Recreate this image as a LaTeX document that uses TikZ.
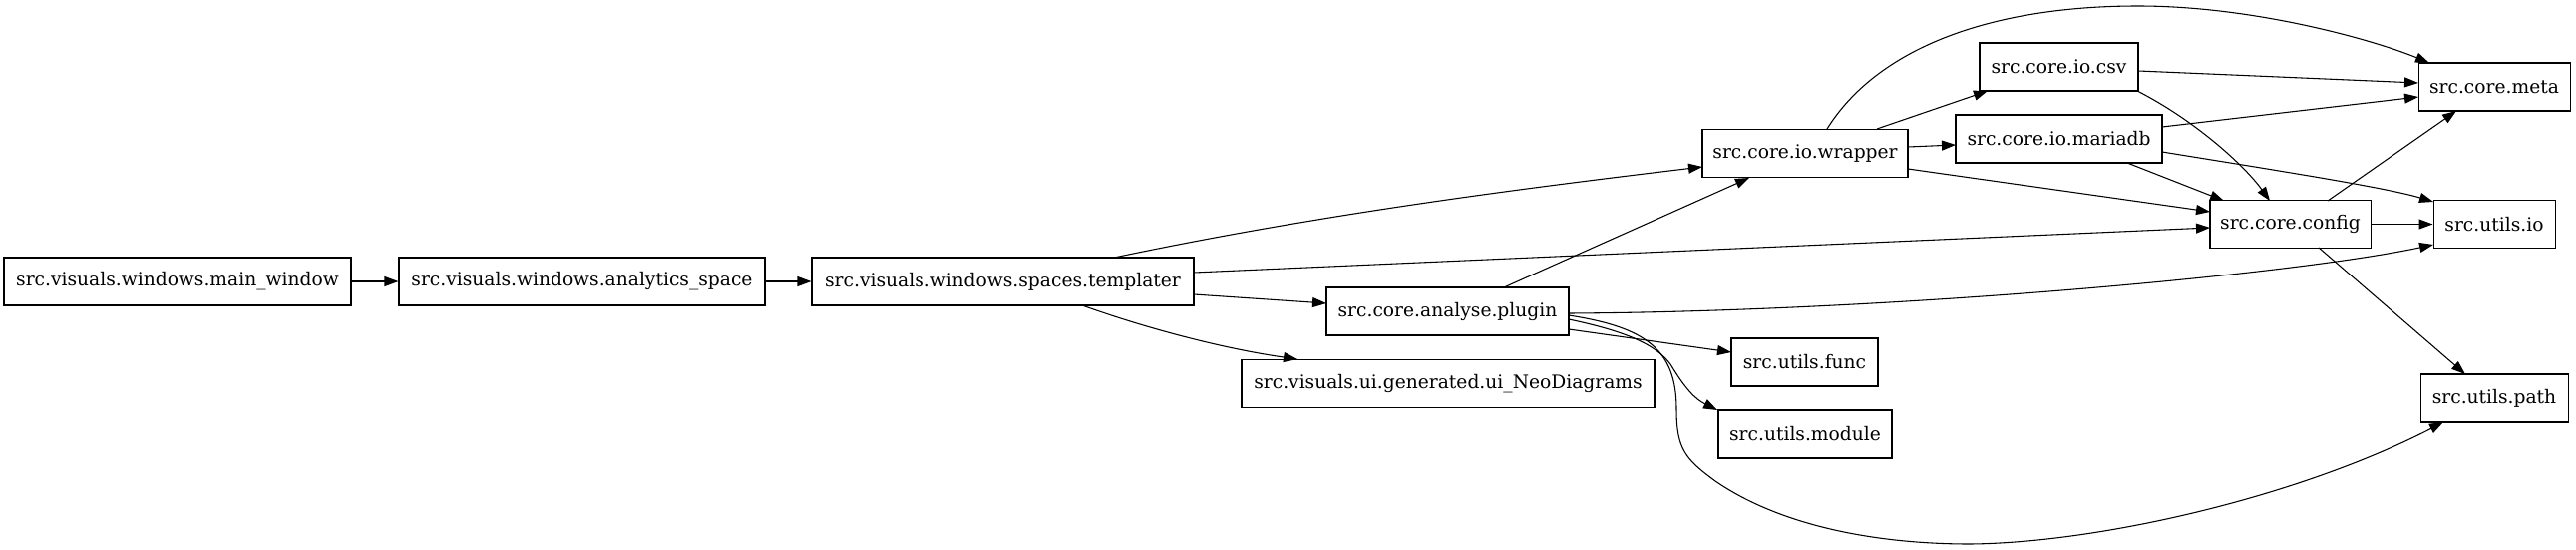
\documentclass[tikz,border=0pt]{standalone}
\usepackage{fontspec}
\setmainfont{DejaVu Serif}
\usetikzlibrary{arrows.meta}
\begin{document}
\begin{tikzpicture}[x=0.75pt,y=-0.75pt,
  box/.style={draw, line width=0.8pt, rectangle, minimum height=36pt, inner sep=0pt,
              font=\fontsize{14}{16}\selectfont},
  edge/.style={line width=0.8pt, -{Triangle[length=10.5pt,width=7.5pt]}}]
\useasboundingbox (0,0) rectangle (2583,550);
% nodes
\node[box, minimum width=261pt]    (mw)   at (178,282)    {src.visuals.windows.main\_window};
\node[box, minimum width=275.25pt] (an)   at (583.5,282)  {src.visuals.windows.analytics\_space};
\node[box, minimum width=287.25pt] (tp)   at (1005.5,282) {src.visuals.windows.spaces.templater};
\node[box, minimum width=182.25pt] (pl)   at (1451.5,312) {src.core.analyse.plugin};
\node[box, minimum width=310.5pt]  (neo)  at (1452,384.5) {src.visuals.ui.generated.ui\_NeoDiagrams};
\node[box, minimum width=154.5pt]  (wr)   at (1810,153.5) {src.core.io.wrapper};
\node[box, minimum width=119.25pt] (csv)  at (2064.5,67)  {src.core.io.csv};
\node[box, minimum width=155.25pt] (mdb)  at (2064.5,139) {src.core.io.mariadb};
\node[box, minimum width=114pt]    (meta) at (2501,87)    {src.core.meta};
\node[box, minimum width=120.75pt] (cfg)  at (2296.5,224.5) {src.core.config};
\node[box, minimum width=91.5pt]   (uio)  at (2501,224.5) {src.utils.io};
\node[box, minimum width=110.25pt] (ufunc) at (1809.5,363) {src.utils.func};
\node[box, minimum width=130.5pt]  (umod) at (1810,435)   {src.utils.module};
\node[box, minimum width=111pt]    (upath) at (2501,399)  {src.utils.path};
% edges
\draw[edge] (mw.east) -- (an.west);
\draw[edge] (an.east) -- (tp.west);
\draw[edge] ([shift={(111.5,-24)}]tp.center) .. controls +(200,-42) and +(-200,24) .. ([shift={(-103,13.5)}]wr.center);
\draw[edge] ([shift={(191.5,-9)}]tp.center) -- ([shift={(-80.5,3.5)}]cfg.center);
\draw[edge] ([shift={(191.5,13)}]tp.center) -- ([shift={(-121.5,-8)}]pl.center);
\draw[edge] ([shift={(79.5,24)}]tp.center) .. controls +(70,25) and +(-70,-10) .. ([shift={(-151,-24.5)}]neo.center);
\draw[edge] ([shift={(56.5,-24)}]pl.center) -- ([shift={(-56,24.5)}]wr.center);
\draw[edge] ([shift={(121.5,2)}]pl.center) .. controls +(327,-2) and +(-140,30) .. ([shift={(-61,20.5)}]uio.center);
\draw[edge] ([shift={(121.5,18)}]pl.center) -- ([shift={(-73.5,-10)}]ufunc.center);
\draw[edge] ([shift={(121.5,8)}]pl.center) .. controls +(57,12) and +(-15,-20) .. (1675,365)
            .. controls +(15,25) and +(-22,-11) .. ([shift={(-88,-24)}]umod.center);
\draw[edge] ([shift={(121.5,4)}]pl.center) .. controls +(77,12) and +(0,-60) .. (1681,410)
            .. controls +(0,40) and +(-30,-22) .. (1720,482)
            .. controls +(70,48) and +(-85,0) .. (1975,545)
            .. controls +(125,-1) and +(-150,77) .. ([shift={(-51,24)}]upath.center);
\draw[edge] ([shift={(22,-24.5)}]wr.center) .. controls +(50,-80) and +(-150,0) .. (2144,6)
            .. controls +(116,0) and +(-56,-23) .. ([shift={(-65,-24)}]meta.center);
\draw[edge] ([shift={(72,-24.5)}]wr.center) -- ([shift={(-71.5,24)}]csv.center);
\draw[edge] ([shift={(103,-6.5)}]wr.center) -- ([shift={(-103.5,6)}]mdb.center);
\draw[edge] ([shift={(103,15.5)}]wr.center) -- ([shift={(-80.5,-12.5)}]cfg.center);
\draw[edge] ([shift={(79.5,4)}]csv.center) -- ([shift={(-76,-4)}]meta.center);
\draw[edge] ([shift={(78.5,24)}]csv.center) .. controls +(57,29) and +(-26,-36) .. ([shift={(-20.5,-23.5)}]cfg.center);
\draw[edge] ([shift={(103.5,-12)}]mdb.center) -- ([shift={(-76,10)}]meta.center);
\draw[edge] ([shift={(103.5,13)}]mdb.center) .. controls +(92,15) and +(-50,-15) .. ([shift={(-61,-22.5)}]uio.center);
\draw[edge] ([shift={(68.5,24)}]mdb.center) -- ([shift={(-66.5,-23.5)}]cfg.center);
\draw[edge] ([shift={(37.5,-23.5)}]cfg.center) -- ([shift={(-38,24)}]meta.center);
\draw[edge] (cfg.east) -- (uio.west);
\draw[edge] ([shift={(28.5,23.5)}]cfg.center) -- ([shift={(-29,-24)}]upath.center);
\end{tikzpicture}
\end{document}
